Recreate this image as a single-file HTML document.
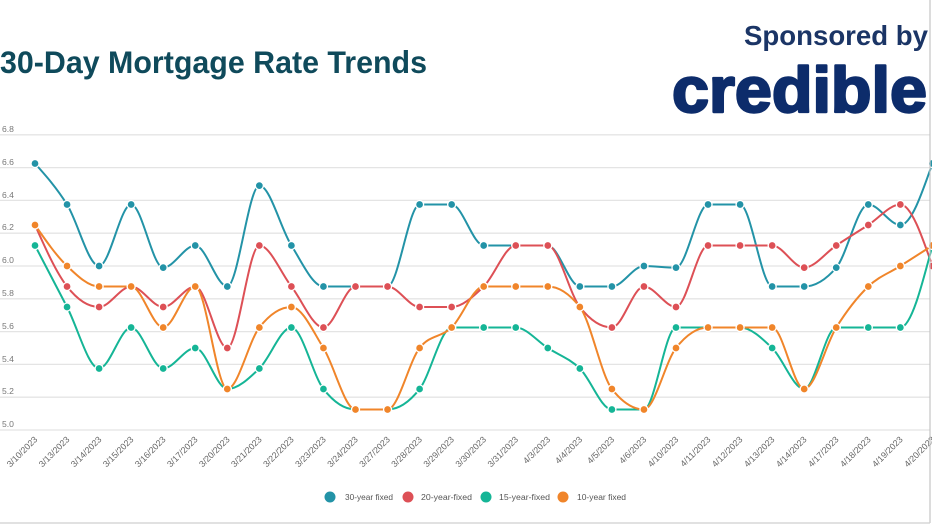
<!DOCTYPE html>
<html>
<head>
<meta charset="utf-8">
<style>
html,body{margin:0;padding:0;background:#fff;}
body{width:932px;height:524px;overflow:hidden;}
svg{display:block;font-family:"Liberation Sans",Arial,sans-serif;}
</style>
</head>
<body>
<svg id="c" width="932" height="524" viewBox="0 0 932 524" xmlns="http://www.w3.org/2000/svg">
<rect x="0" y="0" width="932" height="524" fill="#fff"/>
<text x="0" y="73" font-size="31.5" font-weight="bold" fill="#0f4a5b" textLength="427" lengthAdjust="spacingAndGlyphs">30-Day Mortgage Rate Trends</text>
<text x="744" y="45" font-size="27.5" font-weight="bold" fill="#1b3566" textLength="184" lengthAdjust="spacingAndGlyphs">Sponsored by</text>
<text x="672" y="112" font-size="64" font-weight="bold" fill="#0d2c6b" stroke="#0d2c6b" stroke-width="2.4" stroke-linejoin="round" textLength="255" lengthAdjust="spacingAndGlyphs">credible</text>
<g id="grid"></g>
<g font-size="8.6" fill="#777">
<text x="2" y="132">6.8</text>
<text x="2" y="165">6.6</text>
<text x="2" y="198">6.4</text>
<text x="2" y="230">6.2</text>
<text x="2" y="263">6.0</text>
<text x="2" y="296">5.8</text>
<text x="2" y="329">5.6</text>
<text x="2" y="362">5.4</text>
<text x="2" y="394">5.2</text>
<text x="2" y="427">5.0</text>
</g>
<g id="xl" font-size="8.8" fill="#666"></g>
<g id="lines"></g>
<g font-size="8.6" fill="#555">
<circle cx="330" cy="497" r="5.5" fill="#2393a7"/>
<text x="345" y="500" textLength="48" lengthAdjust="spacingAndGlyphs">30-year fixed</text>
<circle cx="408" cy="497" r="5.5" fill="#dd5056"/>
<text x="421" y="500" textLength="51" lengthAdjust="spacingAndGlyphs">20-year-fixed</text>
<circle cx="486" cy="497" r="5.5" fill="#15b596"/>
<text x="499" y="500" textLength="51" lengthAdjust="spacingAndGlyphs">15-year-fixed</text>
<circle cx="563" cy="497" r="5.5" fill="#f0852a"/>
<text x="577" y="500" textLength="49" lengthAdjust="spacingAndGlyphs">10-year fixed</text>
</g>
<line x1="930" y1="0" x2="930" y2="523" stroke="#c4c4c4" stroke-width="1.2"/>
<line x1="0" y1="523" x2="930" y2="523" stroke="#cfcfcf" stroke-width="1.2"/>
</svg>
<script>
(function(){
var NS="http://www.w3.org/2000/svg";
var dates=["3/10/2023","3/13/2023","3/14/2023","3/15/2023","3/16/2023","3/17/2023","3/20/2023","3/21/2023","3/22/2023","3/23/2023","3/24/2023","3/27/2023","3/28/2023","3/29/2023","3/30/2023","3/31/2023","4/3/2023","4/4/2023","4/5/2023","4/6/2023","4/10/2023","4/11/2023","4/12/2023","4/13/2023","4/14/2023","4/17/2023","4/18/2023","4/19/2023","4/20/2023"];
var series=[
{c:"#2393a7",d:[6.625,6.375,6.0,6.375,5.99,6.125,5.875,6.49,6.125,5.875,5.875,5.875,6.375,6.375,6.125,6.125,6.125,5.875,5.875,6.0,5.99,6.375,6.375,5.875,5.875,5.99,6.375,6.25,6.625]},
{c:"#dd5056",d:[6.25,5.875,5.75,5.875,5.75,5.875,5.5,6.125,5.875,5.625,5.875,5.875,5.75,5.75,5.875,6.125,6.125,5.75,5.625,5.875,5.75,6.125,6.125,6.125,5.99,6.125,6.25,6.375,6.0]},
{c:"#15b596",d:[6.125,5.75,5.375,5.625,5.375,5.5,5.25,5.375,5.625,5.25,5.125,5.125,5.25,5.625,5.625,5.625,5.5,5.375,5.125,5.125,5.625,5.625,5.625,5.5,5.25,5.625,5.625,5.625,6.125]},
{c:"#f0852a",d:[6.25,6.0,5.875,5.875,5.625,5.875,5.25,5.625,5.75,5.5,5.125,5.125,5.5,5.625,5.875,5.875,5.875,5.75,5.25,5.125,5.5,5.625,5.625,5.625,5.25,5.625,5.875,6.0,6.125]}
];
function X(i){return 35+i*32.05;}
function Y(v){return 430-(v-5)*164;}
var grid=document.getElementById("grid");
for(var k=0;k<10;k++){
  var v=5+k*0.2,l=document.createElementNS(NS,"line");
  l.setAttribute("x1",0);l.setAttribute("x2",930);
  l.setAttribute("y1",Y(v));l.setAttribute("y2",Y(v));
  l.setAttribute("stroke","#e4e4e4");l.setAttribute("stroke-width","1.3");
  grid.appendChild(l);
}
var xl=document.getElementById("xl");
dates.forEach(function(d,i){
  var t=document.createElementNS(NS,"text");
  var px=X(i)+3,py=440;
  t.setAttribute("x",px);t.setAttribute("y",py);
  t.setAttribute("text-anchor","end");
  t.setAttribute("transform","rotate(-45 "+px+" "+py+")");
  t.textContent=d;xl.appendChild(t);
});
function sign(x){return x<0?-1:1;}
function slope3(x0,y0,x1,y1,x2,y2){
  var h0=x1-x0,h1=x2-x1,s0=(y1-y0)/h0,s1=(y2-y1)/h1,p=(s0*h1+s1*h0)/(h0+h1);
  return (sign(s0)+sign(s1))*Math.min(Math.abs(s0),Math.abs(s1),0.5*Math.abs(p))||0;
}
function slope2(x0,y0,x1,y1,t){var h=x1-x0;return h?(3*(y1-y0)/h-t)/2:t;}
var lines=document.getElementById("lines");
series.forEach(function(s){
  var xs=[],ys=[],n=s.d.length;
  for(var i=0;i<n;i++){xs.push(X(i));ys.push(Y(s.d[i]));}
  var t=[];
  for(i=1;i<n-1;i++)t[i]=slope3(xs[i-1],ys[i-1],xs[i],ys[i],xs[i+1],ys[i+1]);
  t[0]=slope2(xs[0],ys[0],xs[1],ys[1],t[1]);
  t[n-1]=slope2(xs[n-1],ys[n-1],xs[n-2],ys[n-2],t[n-2]);
  var d="M"+xs[0]+","+ys[0];
  for(i=0;i<n-1;i++){
    var dx=(xs[i+1]-xs[i])/3;
    d+="C"+(xs[i]+dx)+","+(ys[i]+dx*t[i])+","+(xs[i+1]-dx)+","+(ys[i+1]-dx*t[i+1])+","+xs[i+1]+","+ys[i+1];
  }
  var p=document.createElementNS(NS,"path");
  p.setAttribute("d",d);p.setAttribute("fill","none");
  p.setAttribute("stroke",s.c);p.setAttribute("stroke-width","2");
  lines.appendChild(p);
  for(i=0;i<n;i++){
    var c=document.createElementNS(NS,"circle");
    c.setAttribute("cx",xs[i]);c.setAttribute("cy",ys[i]);c.setAttribute("r","4");
    c.setAttribute("fill",s.c);c.setAttribute("stroke","#fff");c.setAttribute("stroke-width","1.3");
    lines.appendChild(c);
  }
});
})();
</script>
</body>
</html>
